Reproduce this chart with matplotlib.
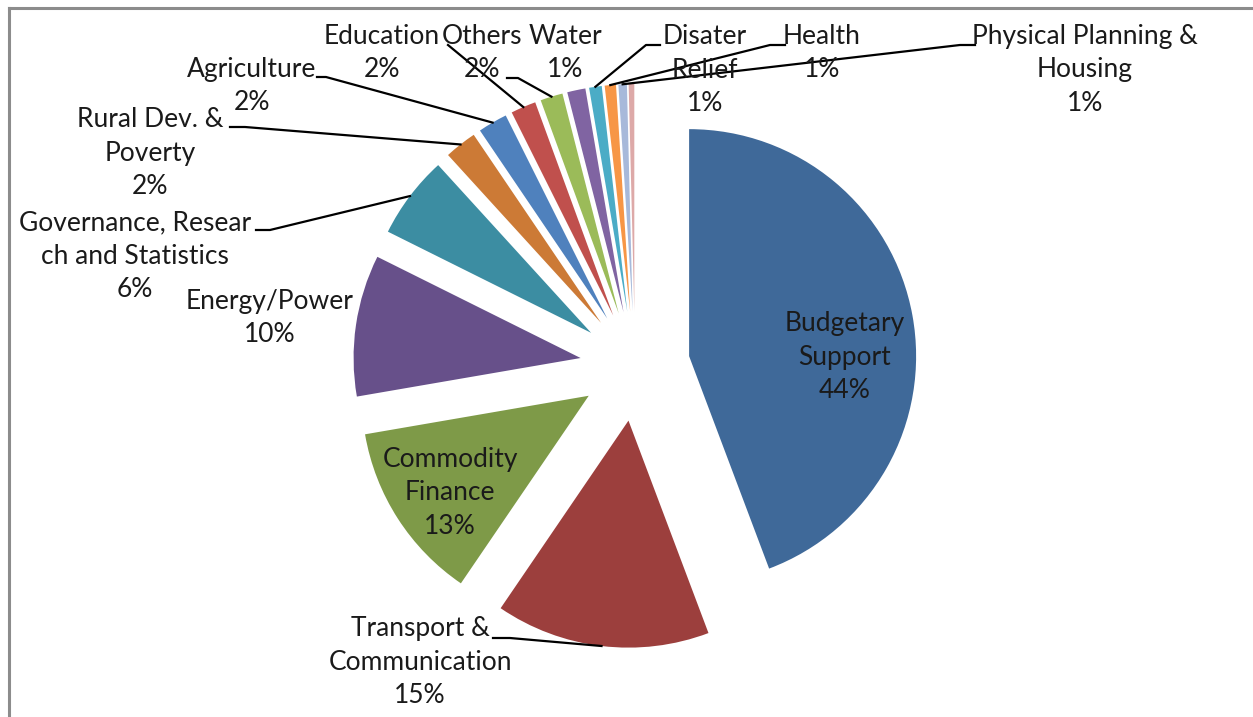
import math

import matplotlib
matplotlib.use("Agg")
import matplotlib.pyplot as plt
from matplotlib.lines import Line2D
from matplotlib.patches import Wedge

# sector shares (percent), clockwise from 12 o'clock
sectors = [
    "Budgetary Support", "Transport & Communication", "Commodity Finance",
    "Energy/Power", "Governance, Research and Statistics", "Rural Dev. & Poverty",
    "Agriculture", "Education", "Others", "Water", "Disater Relief", "Health",
    "Physical Planning & Housing", "Other small",
]
shares = [44.4, 15.3, 12.8, 10.1, 5.9, 2.3, 2.1, 1.8, 1.6, 1.3, 0.9, 0.8, 0.6, 0.4]
pct_labels = ["44%", "15%", "13%", "10%", "6%", "2%", "2%", "2%", "2%", "1%", "1%", "1%", "1%", ""]
colors = [
    "#3F6999", "#9C3F3D", "#7E9A48", "#67508A", "#3C8DA2", "#CC7A36",
    "#4F81BD", "#C0504D", "#9BBB59", "#8064A2", "#4BACC6", "#F79646",
    "#A7B9DA", "#DDA9A8",
]

W, H = 1253, 717
fig = plt.figure(figsize=(W / 100, H / 100), dpi=100)
ax = fig.add_axes([0, 0, 1, 1])
ax.set_xlim(0, W)
ax.set_ylim(H, 0)
ax.axis("off")

plt.rcParams["font.family"] = ["Lato", "DejaVu Sans"]
FS = 19

cx, cy, R, expl = 635, 366, 227, 55
total = sum(shares)

# wedges in screen coords (y downward), clockwise from the top
arc_pts = []
start = 0.0
for val, col in zip(shares, colors):
    span = 360.0 * val / total
    mid = start + span / 2
    dx, dy = math.sin(math.radians(mid)), -math.cos(math.radians(mid))
    vx, vy = cx + expl * dx, cy + expl * dy
    ax.add_patch(Wedge((vx, vy), R, start - 90, start + span - 90,
                       facecolor=col, edgecolor="none"))
    arc_pts.append((vx + R * dx, vy + R * dy))
    start += span


def label(i, text, x, y, lead=None):
    ax.text(x, y, text + ("\n" + pct_labels[i] if pct_labels[i] else ""),
            ha="center", va="center", fontsize=FS, color="#1a1a1a", linespacing=1.42)
    if lead is not None:
        px, py = arc_pts[i]
        xs = [p[0] for p in lead] + [px]
        ys = [p[1] for p in lead] + [py]
        ax.add_line(Line2D(xs, ys, color="black", lw=1.6))


label(0, "Budgetary\nSupport", 845, 357)
label(1, "Transport &\nCommunication", 420, 662, [(493, 638), (510, 638)])
label(2, "Commodity\nFinance", 450, 493)
label(3, "Energy/Power", 270, 318)
label(4, "Governance, Resear\nch and Statistics", 135, 256, [(256, 230), (270, 230)])
label(5, "Rural Dev. &\nPoverty", 150, 153, [(230, 127), (245, 127)])
label(6, "Agriculture", 252, 86, [(317, 77), (326, 77)])
label(7, "Education", 382, 53, [(448, 45)])
label(8, "Others", 482, 53, [(507, 78), (518, 78)])
label(9, "Water", 565, 53)
label(10, "Disater\nRelief", 705, 70, [(660, 45), (646, 45)])
label(11, "Health", 822, 53, [(785, 45), (770, 45)])
label(12, "Physical Planning &\nHousing", 1085, 70, [(975, 45), (960, 45)])

# chart frame (left and top edges visible in the crop)
fig.add_artist(Line2D([9 / W, 9 / W], [0, 1 - 8 / H], color="#8c8c8c", lw=2.2))
fig.add_artist(Line2D([9 / W, 1], [1 - 8 / H, 1 - 8 / H], color="#8c8c8c", lw=2.2))

fig.savefig("out.png", dpi=100, facecolor="white")
